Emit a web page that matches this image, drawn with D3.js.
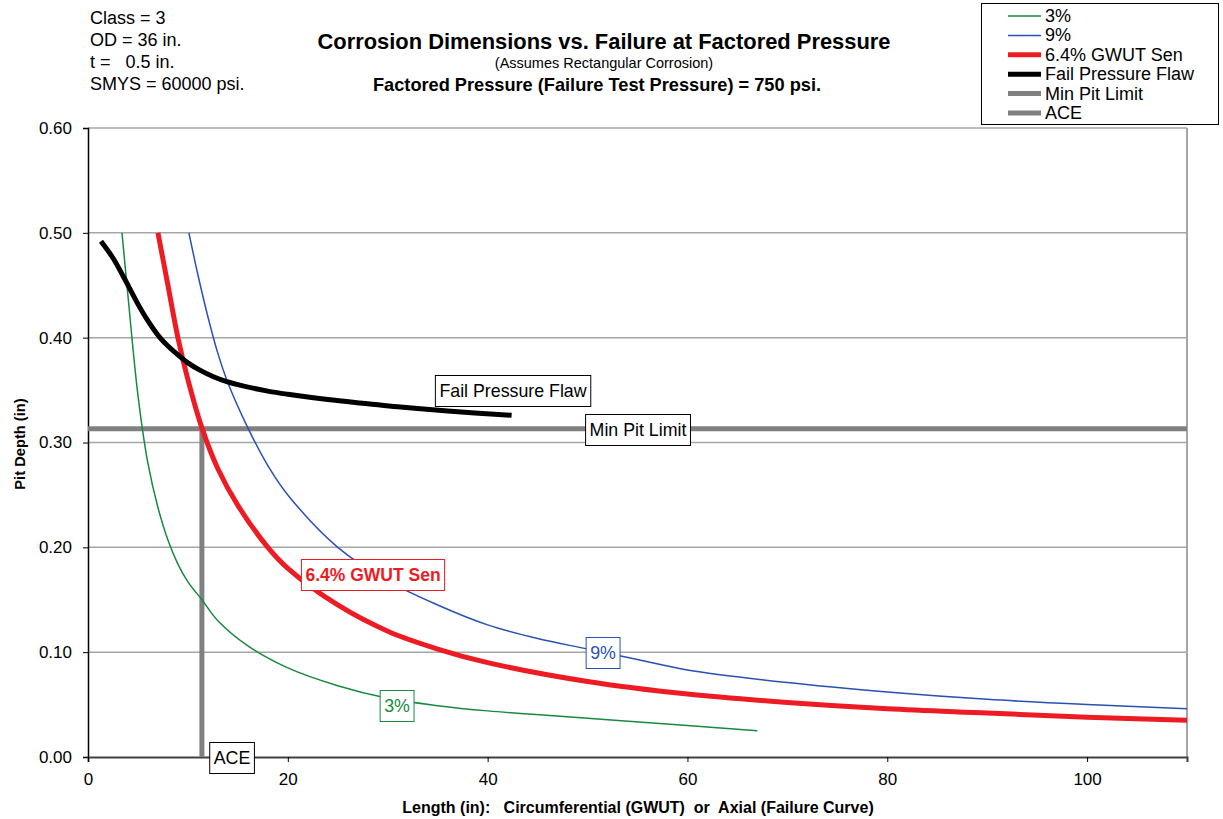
<!DOCTYPE html>
<html><head><meta charset="utf-8">
<script src="https://cdn.jsdelivr.net/npm/d3@7"></script>
<style>body{margin:0;background:#fff;} svg{display:block;font-family:"Liberation Sans",Arial,sans-serif;}</style>
</head><body>
<svg id="c" width="1223" height="819"></svg>
<script>
// ---- data ----
const green3 = [[3.4,0.50],[4,0.44],[5,0.345],[6,0.28],[7,0.238],[8,0.207],[9,0.184],[10,0.167],[11.4,0.15],[13,0.13],[16,0.106],[20,0.085],[25,0.068],[30,0.056],[35,0.049],[40,0.044],[50,0.037],[60,0.030],[67,0.025]];
const blue9 = [[10.1,0.50],[11,0.46],[12,0.42],[13,0.385],[14,0.357],[16,0.314],[18,0.278],[20,0.25],[25,0.2],[30,0.168],[35,0.145],[40,0.126],[45,0.113],[50,0.103],[55,0.093],[60,0.083],[70,0.071],[80,0.062],[90,0.055],[100,0.050],[110,0.046]];
const red64 = [[7,0.50],[8,0.45],[9,0.40],[10,0.36],[11.4,0.314],[13,0.275],[15,0.24],[18,0.2],[20,0.18],[25,0.145],[30,0.12],[35,0.103],[40,0.09],[50,0.072],[60,0.06],[70,0.052],[80,0.046],[90,0.042],[100,0.038],[110,0.035]];
const failFlaw = [[1.3,0.492],[2.5,0.476],[3.5,0.459],[5,0.432],[6,0.416],[7.2,0.4],[8,0.392],[9.2,0.382],[10,0.376],[11.2,0.369],[12.5,0.363],[13.9,0.358],[15.5,0.354],[18,0.349],[20,0.346],[24,0.341],[28,0.337],[31,0.334],[36,0.33],[42.4,0.326]];
const minPit = [[0,0.313],[110,0.313]];
const ace = [[11.4,0],[11.4,0.313]];
const xTicks = [0,20,40,60,80,100];
const yTicks = [0,0.1,0.2,0.3,0.4,0.5,0.6];
const infoLines = ["Class = 3","OD = 36 in.","t =   0.5 in.","SMYS = 60000 psi."];
const legendItems = [
  {name:"3%", color:"#178a3f", w:1.5},
  {name:"9%", color:"#2a50b4", w:1.5},
  {name:"6.4% GWUT Sen", color:"#ed1c24", w:5},
  {name:"Fail Pressure Flaw", color:"#000000", w:5},
  {name:"Min Pit Limit", color:"#808080", w:5},
  {name:"ACE", color:"#808080", w:5}
];

// ---- layout ----
const L=88, R=1187, T=128, B=757;
const svg=d3.select("#c");
const x=d3.scaleLinear().domain([0,110]).range([L,R]);
const y=d3.scaleLinear().domain([0,0.6]).range([B,T]);

// gridlines
svg.append("g").selectAll("line").data(yTicks.filter(d=>d>0)).join("line")
  .attr("x1",L).attr("x2",R).attr("y1",d=>y(d)).attr("y2",d=>y(d))
  .attr("stroke","#a6a6a6").attr("stroke-width",1.5);
// right border
svg.append("line").attr("x1",R).attr("x2",R).attr("y1",T).attr("y2",B).attr("stroke","#a6a6a6").attr("stroke-width",2);

// axes
const yAxis=d3.axisLeft(y).tickValues(yTicks).tickFormat(d3.format(".2f")).tickSize(5).tickPadding(11);
const gy=svg.append("g").attr("transform",`translate(${L},0)`).call(yAxis);
gy.select(".domain").attr("stroke","#000").attr("stroke-width",1.5);
gy.selectAll(".tick line").attr("stroke","#000");
gy.selectAll("text").attr("font-size",17).attr("fill","#000").attr("font-family","Liberation Sans, Arial");

const xAxis=d3.axisBottom(x).tickValues(xTicks).tickFormat(d3.format("d")).tickSize(5).tickPadding(11);
const gx=svg.append("g").attr("transform",`translate(0,${B})`).call(xAxis);
gx.select(".domain").attr("stroke","#404040").attr("stroke-width",2);
gx.selectAll(".tick line").attr("stroke","#000");
gx.selectAll("text").attr("font-size",17).attr("fill","#000").attr("font-family","Liberation Sans, Arial");

// clip
svg.append("clipPath").attr("id","clip").append("rect").attr("x",L).attr("y",T).attr("width",R-L).attr("height",B-T);
const line=d3.line().x(d=>x(d[0])).y(d=>y(d[1])).curve(d3.curveCatmullRom.alpha(0.5));
const lineStraight=d3.line().x(d=>x(d[0])).y(d=>y(d[1]));
const plot=svg.append("g").attr("clip-path","url(#clip)");

plot.append("path").datum(minPit).attr("d",lineStraight).attr("fill","none").attr("stroke","#808080").attr("stroke-width",5);
plot.append("path").datum(ace).attr("d",lineStraight).attr("fill","none").attr("stroke","#808080").attr("stroke-width",5);
plot.append("path").datum(green3).attr("d",line).attr("fill","none").attr("stroke","#178a3f").attr("stroke-width",1.5);
plot.append("path").datum(blue9).attr("d",line).attr("fill","none").attr("stroke","#2a50b4").attr("stroke-width",1.5);
plot.append("path").datum(red64).attr("d",line).attr("fill","none").attr("stroke","#ed1c24").attr("stroke-width",5);
plot.append("path").datum(failFlaw).attr("d",line).attr("fill","none").attr("stroke","#000").attr("stroke-width",5);

// data labels (boxes)
function box(cx,cy,text,color,bold,size){
  const g=svg.append("g");
  const t=g.append("text").attr("x",cx).attr("y",cy).attr("text-anchor","middle").attr("dominant-baseline","central")
    .attr("font-size",size).attr("font-weight",bold?"bold":"normal").attr("fill",color).text(text);
  const bb=t.node().getBBox();
  g.insert("rect","text").attr("x",bb.x-4).attr("y",cy-15.5).attr("width",bb.width+8).attr("height",31)
    .attr("fill","#fff").attr("stroke",color).attr("stroke-width",1);
}
box(513,391,"Fail Pressure Flaw","#000",false,17.8);
box(638,430,"Min Pit Limit","#000",false,17.8);
box(373,575,"6.4% GWUT Sen","#ed1c24",true,17.5);
box(397,706,"3%","#178a3f",false,17.8);
box(603,653,"9%","#2a50b4",false,17.8);
box(232,758,"ACE","#000",false,17.8);

// info text
svg.append("g").selectAll("text").data(infoLines).join("text")
  .attr("x",90).attr("y",(d,i)=>24+i*22).attr("font-size",18).attr("fill","#000").style("white-space","pre").text(d=>d);

// titles
svg.append("text").attr("x",604).attr("y",49).attr("text-anchor","middle").attr("font-size",21.9).attr("font-weight","bold").text("Corrosion Dimensions vs. Failure at Factored Pressure");
svg.append("text").attr("x",604).attr("y",68).attr("text-anchor","middle").attr("font-size",14.5).text("(Assumes Rectangular Corrosion)");
svg.append("text").attr("x",597).attr("y",91).attr("text-anchor","middle").attr("font-size",18.2).attr("font-weight","bold").text("Factored Pressure (Failure Test Pressure) = 750 psi.");

// axis titles
svg.append("text").attr("transform","translate(25,444) rotate(-90)").attr("text-anchor","middle").attr("font-size",14.7).attr("font-weight","bold").text("Pit Depth (in)");
svg.append("text").attr("x",638).attr("y",813).attr("text-anchor","middle").attr("font-size",16).attr("font-weight","bold").style("white-space","pre").text("Length (in):   Circumferential (GWUT)  or  Axial (Failure Curve)");

// legend
const lg=svg.append("g");
lg.append("rect").attr("x",981.5).attr("y",3.5).attr("width",237).attr("height",121).attr("fill","#fff").attr("stroke","#000").attr("stroke-width",1);
const rows=lg.selectAll("g").data(legendItems).join("g").attr("transform",(d,i)=>`translate(0,${16+i*19.4})`);
rows.append("line").attr("x1",1008).attr("x2",1041).attr("y1",0).attr("y2",0).attr("stroke",d=>d.color).attr("stroke-width",d=>d.w);
rows.append("text").attr("x",1045).attr("y",0).attr("dominant-baseline","central").attr("font-size",18).text(d=>d.name);
</script>
</body></html>
